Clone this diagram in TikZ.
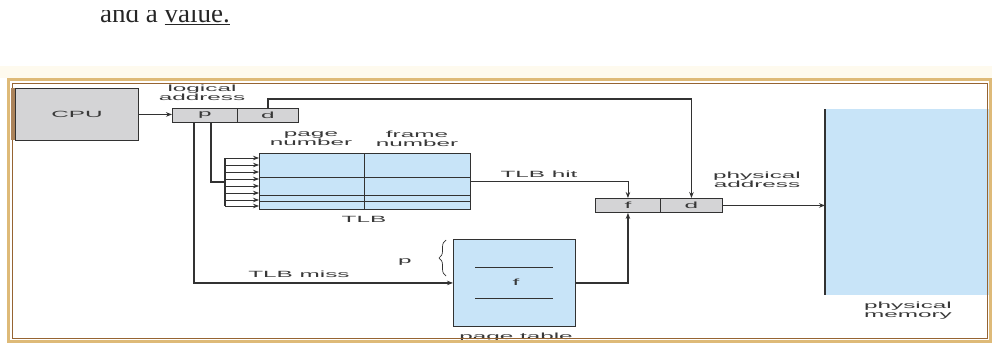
\documentclass[tikz,border=0pt]{standalone}
\usepackage{fontspec}
\usepackage{graphicx}
\setmainfont{Liberation Serif}
\newfontfamily\arialfam{Liberation Sans}
\usetikzlibrary{arrows.meta,calc,decorations.pathreplacing}
\definecolor{gfill}{RGB}{212,212,214}
\definecolor{bfill}{RGB}{200,228,248}
\definecolor{ink}{RGB}{50,50,50}
\definecolor{tanc}{RGB}{222,186,120}
\definecolor{brownc}{RGB}{150,100,50}
\definecolor{cream}{RGB}{254,250,238}
\newcommand\wl[1]{\scalebox{2.7}[1]{#1}}
\begin{document}
\begin{tikzpicture}[x=1pt,y=-1pt,
  lbl/.style={inner sep=0pt, font=\arialfam\fontsize{9}{10}\selectfont, text=black!78, align=center},
  gbox/.style={draw=ink, line width=0.9pt, fill=gfill, inner sep=0pt, anchor=north west},
  bbox/.style={draw=ink, line width=0.9pt, fill=bfill, inner sep=0pt, anchor=north west},
  conn/.style={draw=ink, line width=1.2pt},
  thinconn/.style={draw=ink, line width=0.8pt},
  arr/.style={-{Stealth[length=6pt,width=4.5pt]}}]
\fill[white] (0,0) rectangle (992,343);
\useasboundingbox (0,0) rectangle (992,343);
% heading text (clipped at top)
\begin{scope}
\clip (0,10) rectangle (992,40);
\node[anchor=base west, inner sep=0pt, text=black!85, font=\fontsize{27}{30}\selectfont] (head) at (100,22) {and a \underline{value.}};
\end{scope}
\fill[cream] (0,66) rectangle (992,78);
% CPU
\node[gbox, minimum width=123pt, minimum height=52pt] (cpu) at (15,88) {};
\node[lbl] (cputxt) at (cpu.center) {\wl{CPU}};
% logical address
\node[gbox, minimum width=65pt, minimum height=14pt] (lp) at (172,108) {};
\node[gbox, minimum width=61pt, minimum height=14pt] (ld) at (237,108) {};
\node[lbl] (lptxt) at (lp.center) {\wl{p}};
\node[lbl] (ldtxt) at (ld.center) {\wl{d}};
\node[lbl] (logl) at (202,93) {\wl{logical}\\[-1pt]\wl{address}};
% TLB
\node[bbox, minimum width=211pt, minimum height=56pt] (tlb) at (259,153) {};
\draw[ink, line width=0.8pt] (364,153) -- (364,209);
\draw[ink, line width=0.8pt] (259,177) -- (470,177);
\draw[ink, line width=0.8pt] (259,195) -- (470,195);
\draw[ink, line width=0.8pt] (259,201) -- (470,201);
\node[lbl] (pgnum) at (311,139) {\wl{page}\\[-1pt]\wl{number}};
\node[lbl] (frnum) at (417,139) {\wl{frame}\\[-1pt]\wl{number}};
\node[lbl] (tlbl) at (364,219) {\wl{TLB}};
% physical address
\node[gbox, minimum width=65pt, minimum height=14pt] (pf) at (595,198) {};
\node[gbox, minimum width=62pt, minimum height=14pt] (pd) at (660,198) {};
\node[lbl] (pftxt) at (pf.center) {\wl{f}};
\node[lbl] (pdtxt) at (pd.center) {\wl{d}};
\node[lbl] (physl) at (757,180) {\wl{physical}\\[-1pt]\wl{address}};
% page table
\node[bbox, minimum width=122pt, minimum height=87pt] (pt) at (453,239) {};
\draw[ink, line width=0.8pt] (475,267) -- (553,267);
\draw[ink, line width=0.8pt] (475,298) -- (553,298);
\node[lbl] (pttxt) at (516,282) {\wl{f}};
\node[lbl] (ptl) at (516,337) {\wl{page table}};
% physical memory
\fill[bfill] (825,109) rectangle (990,295);
\node[inner sep=0pt, minimum width=165pt, minimum height=186pt, anchor=north west] (mem) at (825,109) {};
\draw[ink, line width=1.2pt] (mem.north west) -- (mem.south west);
\node[lbl] (meml) at (908,311) {\wl{physical}\\[-1pt]\wl{memory}};
% connectors
\draw[conn, arr] (cpu.east) -- (cpu.east -| lp.west);
\draw[conn, line width=1.6pt, arr] (ld.north) -- ++(0,-9) -| (pd.north);
\coordinate (pA) at ($(lp.south)+(-11,0)$);
\coordinate (pB) at ($(lp.south)+(6,0)$);
\coordinate (cm) at (225,182);
\draw[conn] (pB) |- (cm);
\foreach \yy [count=\i] in {158,165,172,179,186,193,200,206} {
  \coordinate (cb\i) at (225,\yy);
  \draw[thinconn, arr] (cb\i) -- (cb\i -| tlb.west);
}
\draw[conn] (cb1) -- (cb8);
\draw[conn, arr] (pA) |- (pt.west);
\node[lbl, anchor=south] (miss) at (299,278) {\wl{TLB miss}};
\draw[thinconn, arr] (tlb.east) -| (pf.north);
\node[lbl, anchor=south] (hit) at (539,178) {\wl{TLB hit}};
\draw[conn, line width=1.6pt, arr] (pt.east) -| (pf.south);
\draw[conn, arr] (pd.east) -- (pd.east -| mem.west);
% brace
\coordinate (br1) at (446,276);
\coordinate (br2) at (446,240);
\draw[ink, line width=0.7pt, decorate, decoration={brace, amplitude=7pt}] (br1) -- (br2);
\node[lbl] (ptp) at (405,262) {\wl{p}};
% frame
\draw[tanc, line width=3pt] (8,79) rectangle (990,341);
\draw[brownc, line width=1pt] (12,83) rectangle (987,338);
\fill[brownc!80] (10.5,88) rectangle (14.5,140);
\end{tikzpicture}
\end{document}
